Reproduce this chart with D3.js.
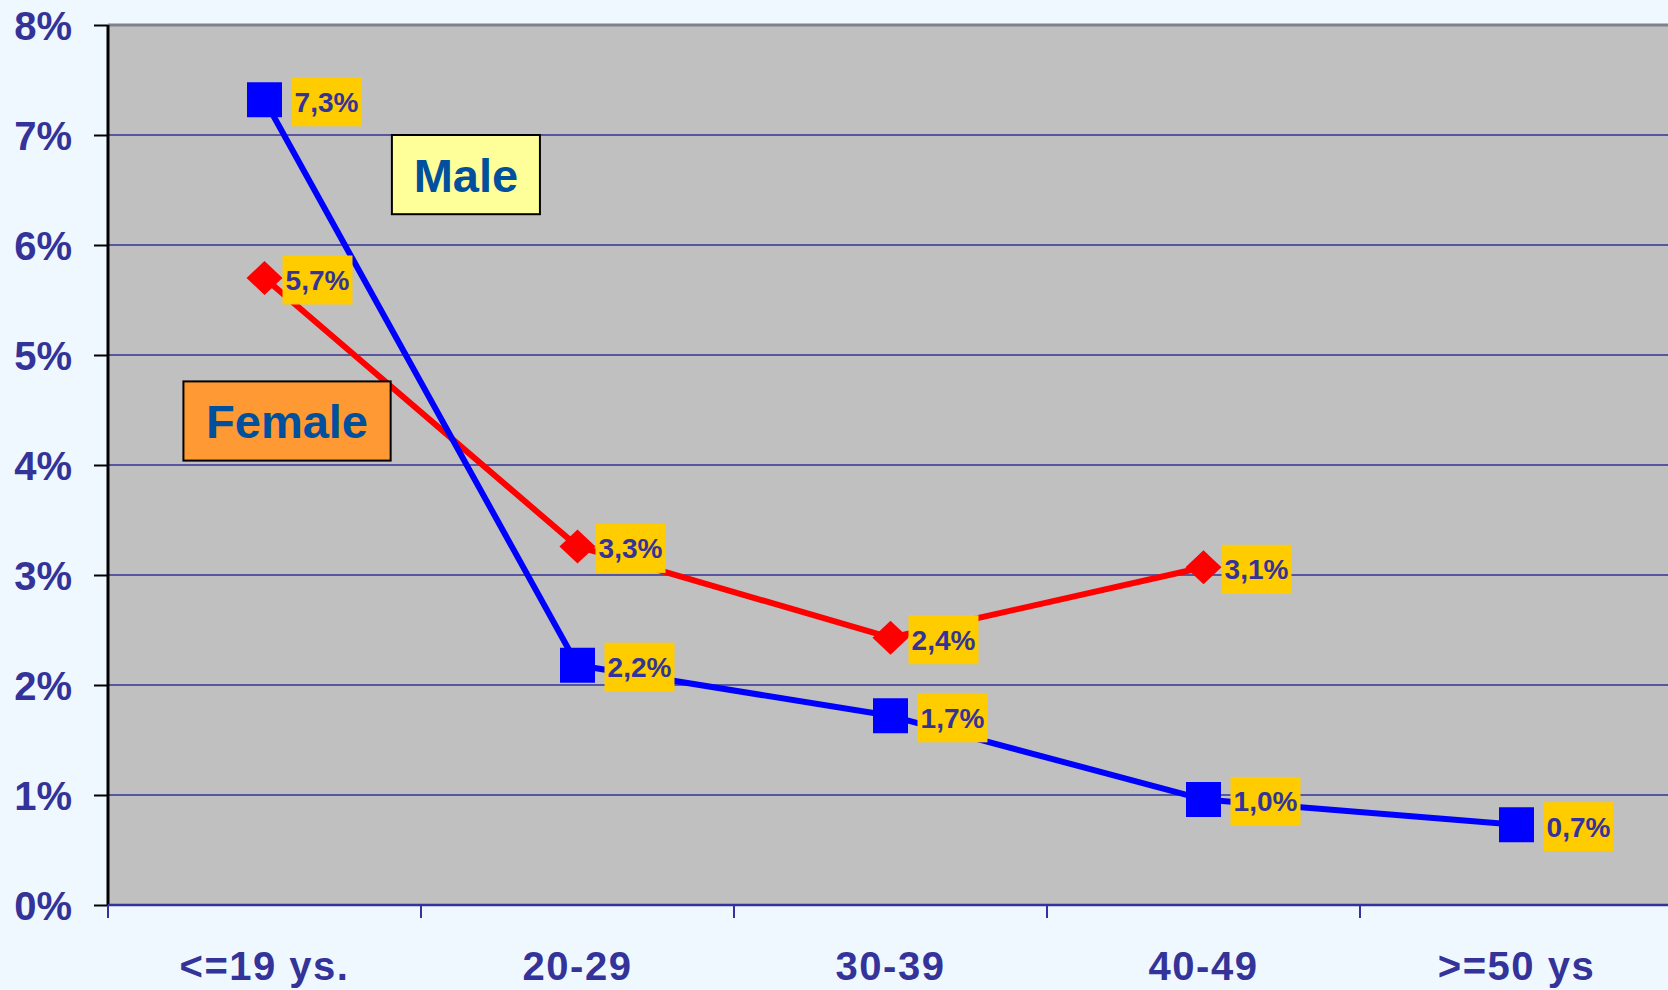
<!DOCTYPE html>
<html lang="en">
  <head>
    <meta charset="utf-8">
    <title>Rate by age group</title>
    <script src="https://d3js.org/d3.v7.min.js"></script>
    <style>
      body { margin: 0; background: #F0F8FF; }
      text { font-family: "Liberation Sans", Arial, sans-serif; font-weight: bold; }
    </style>
  </head>
<body>
  <div id="my_dataviz"></div>

  <script>
  // categories and values
  var ageGroups = ["<=19 ys.", "20-29", "30-39", "40-49", ">=50 ys"];
  var maleValues = [7.32, 2.18, 1.72, 0.96, 0.73];
  var femaleValues = [5.70, 3.26, 2.43, 3.07, null];
  var yTicks = [0, 1, 2, 3, 4, 5, 6, 7, 8];

  // legend boxes: position in category units (x) and percent (y)
  var legendItems = [
    { name: "Male", x0: 0.907, x1: 1.38, y0: 7.0, y1: 6.28, fill: "#FFFF99" },
    { name: "Female", x0: 0.241, x1: 0.903, y0: 4.76, y1: 4.04, fill: "#FF9933" }
  ];

  var W = 1668, H = 990;
  var margin = { top: 25, left: 108 },
      bandW = 313,
      width = bandW * ageGroups.length,
      height = 880;

  var svg = d3.select("#my_dataviz")
    .append("svg")
      .attr("width", W)
      .attr("height", H)
      .style("display", "block");

  svg.append("rect")
    .attr("width", W).attr("height", H)
    .attr("fill", "#F0F8FF");

  var g = svg.append("g")
    .attr("transform", "translate(" + margin.left + "," + margin.top + ")");

  // ---------------------------//
  //       SCALES               //
  // ---------------------------//
  var x = d3.scaleBand()
    .domain(ageGroups)
    .range([0, width]);

  var xLin = d3.scaleLinear()
    .domain([0, ageGroups.length])
    .range([0, width]);

  var y = d3.scaleLinear()
    .domain([0, 8])
    .range([height, 0]);

  function cx(d) { return x(d) + x.bandwidth() / 2; }

  // plot background
  g.append("rect")
    .attr("width", width)
    .attr("height", height)
    .attr("fill", "#C0C0C0");

  // gridlines
  g.append("g")
    .selectAll("line")
    .data(yTicks.filter(function(t) { return t > 0 && t < 8; }))
    .join("line")
      .attr("x1", 0)
      .attr("x2", width)
      .attr("y1", function(d) { return y(d); })
      .attr("y2", function(d) { return y(d); })
      .attr("stroke", "#333399")
      .attr("stroke-width", 1.6);

  // top border
  g.append("line")
    .attr("x1", 0).attr("x2", width)
    .attr("y1", y(8)).attr("y2", y(8))
    .attr("stroke", "#80808F")
    .attr("stroke-width", 3);

  // ---------------------------//
  //       AXES                 //
  // ---------------------------//
  var yAxis = g.append("g")
    .call(d3.axisLeft(y)
      .tickValues(yTicks)
      .tickSize(14)
      .tickPadding(22)
      .tickFormat(function(d) { return d + "%"; }));
  yAxis.select(".domain").remove();
  yAxis.selectAll(".tick line").attr("stroke", "#000").attr("stroke-width", 2);
  yAxis.selectAll(".tick text")
    .attr("fill", "#333399")
    .style("font-size", "40px")
    .attr("dy", "0.36em");
  g.append("line")
    .attr("x1", 0).attr("x2", 0)
    .attr("y1", 0).attr("y2", height)
    .attr("stroke", "#000")
    .attr("stroke-width", 3);

  var xAxis = g.append("g")
    .attr("transform", "translate(0," + height + ")");
  xAxis.append("line")
    .attr("x1", 0).attr("x2", width)
    .attr("stroke", "#333399")
    .attr("stroke-width", 2.5);
  xAxis.selectAll(".xtick")
    .data(d3.range(ageGroups.length))
    .join("line")
      .attr("class", "xtick")
      .attr("x1", function(i) { return xLin(i); })
      .attr("x2", function(i) { return xLin(i); })
      .attr("y1", 0)
      .attr("y2", 13)
      .attr("stroke", "#333399")
      .attr("stroke-width", 2);
  xAxis.selectAll(".xlabel")
    .data(ageGroups)
    .join("text")
      .attr("class", "xlabel")
      .attr("x", function(d) { return cx(d); })
      .attr("y", 75)
      .attr("text-anchor", "middle")
      .attr("fill", "#333399")
      .style("font-size", "40px")
      .style("letter-spacing", "1.5px")
      .text(function(d) { return d; });

  // ---------------------------//
  //       LINES                //
  // ---------------------------//
  var series = [
    { key: "female", values: femaleValues, color: "#FF0000", shape: "diamond", labelDx: 18 },
    { key: "male", values: maleValues, color: "#0000FF", shape: "square", labelDx: 27 }
  ];

  series.forEach(function(s) {
    s.points = ageGroups.map(function(c, i) { return { cat: c, v: s.values[i] }; })
      .filter(function(p) { return p.v !== null; });
  });

  var line = d3.line()
    .x(function(p) { return cx(p.cat); })
    .y(function(p) { return y(p.v); });

  series.forEach(function(s) {
    g.append("path")
      .datum(s.points)
      .attr("d", line)
      .attr("fill", "none")
      .attr("stroke", s.color)
      .attr("stroke-width", 6)
      .attr("stroke-linejoin", "round");
  });

  // markers
  series.forEach(function(s) {
    g.append("g")
      .selectAll("path")
      .data(s.points)
      .join("path")
        .attr("transform", function(p) { return "translate(" + cx(p.cat) + "," + y(p.v) + ")"; })
        .attr("d", s.shape === "square"
          ? "M-17.5,-17.5H17.5V17.5H-17.5Z"
          : "M0,-17L18,0L0,17L-18,0Z")
        .attr("fill", s.color);
  });

  // data labels
  series.forEach(function(s) {
    var lab = g.append("g")
      .selectAll("g")
      .data(s.points)
      .join("g")
        .attr("transform", function(p) {
          return "translate(" + (cx(p.cat) + s.labelDx) + "," + (y(p.v) + 2) + ")";
        });
    lab.append("rect")
      .attr("x", 0)
      .attr("y", -24.5)
      .attr("width", 70)
      .attr("height", 49)
      .attr("fill", "#FFCC00");
    lab.append("text")
      .attr("x", 35)
      .attr("y", 0)
      .attr("dy", "0.36em")
      .attr("text-anchor", "middle")
      .attr("fill", "#333399")
      .style("font-size", "28px")
      .text(function(p) { return p.v.toFixed(1).replace(".", ",") + "%"; });
  });

  // ---------------------------//
  //       LEGEND BOXES         //
  // ---------------------------//
  var leg = g.append("g")
    .selectAll("g")
    .data(legendItems)
    .join("g");
  leg.append("rect")
    .attr("x", function(d) { return xLin(d.x0); })
    .attr("y", function(d) { return y(d.y0); })
    .attr("width", function(d) { return xLin(d.x1) - xLin(d.x0); })
    .attr("height", function(d) { return y(d.y1) - y(d.y0); })
    .attr("fill", function(d) { return d.fill; })
    .attr("stroke", "#000")
    .attr("stroke-width", 2);
  leg.append("text")
    .attr("x", function(d) { return (xLin(d.x0) + xLin(d.x1)) / 2; })
    .attr("y", function(d) { return (y(d.y0) + y(d.y1)) / 2; })
    .attr("dy", "0.36em")
    .attr("text-anchor", "middle")
    .attr("fill", "#00509E")
    .style("font-size", "47px")
    .text(function(d) { return d.name; });
  </script>
</body>
</html>
